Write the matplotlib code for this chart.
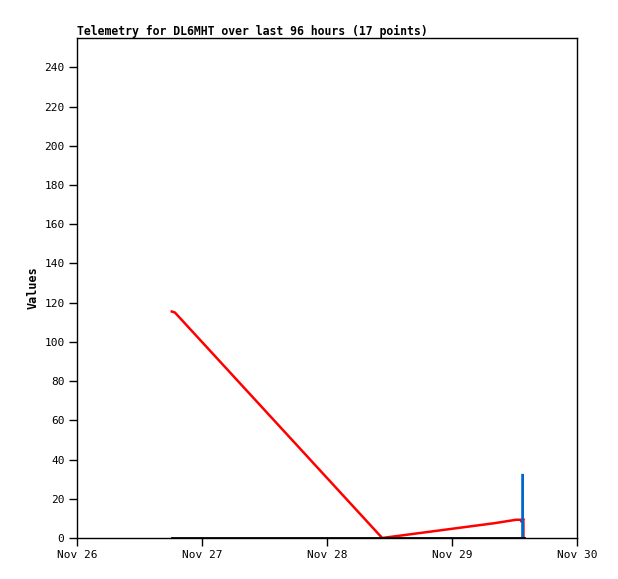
import matplotlib
matplotlib.use("Agg")
import matplotlib.pyplot as plt
import matplotlib.dates as mdates
from datetime import datetime, timedelta

base = datetime(2023, 11, 26)
# hours since Nov 26 00:00
red_hours = [18.2, 18.8, 58.6, 70.0, 80.0, 84.3, 85.25, 85.4, 85.7, 85.72]
red_vals = [115.5, 115.0, 0.0, 4.0, 7.5, 9.3, 9.3, 8.0, 10.0, 0.0]
black_hours = [18.2, 58.6, 85.75]
black_vals = [0.0, 0.0, 0.0]
blue_hours = [85.55, 85.56]
blue_vals = [0.0, 32.0]

xticks = [base + timedelta(days=d) for d in range(5)]

def to_dt(hs):
    return [base + timedelta(hours=h) for h in hs]

fig = plt.figure(figsize=(6.18, 5.79), dpi=100)
ax = fig.add_axes([77/618, 41/579, 500/618, 500/579])

ax.plot(to_dt(red_hours), red_vals, color="#ff0000", lw=1.8, solid_joinstyle="miter")
ax.plot(to_dt(blue_hours), blue_vals, color="#0066cc", lw=2.0)
ax.plot(to_dt(black_hours), black_vals, color="#000000", lw=2.0)

ax.set_xlim(xticks[0], xticks[-1])
ax.set_ylim(0, 255)
ax.set_yticks(range(0, 241, 20))
ax.set_xticks(xticks)
ax.xaxis.set_major_formatter(mdates.DateFormatter("%b %d"))

mono = "DejaVu Sans Mono"
for lab in ax.get_xticklabels() + ax.get_yticklabels():
    lab.set_fontfamily(mono)
    lab.set_fontsize(8)
ax.tick_params(direction="out", length=6, width=1, color="black", pad=3)
for s in ax.spines.values():
    s.set_linewidth(1)
    s.set_color("black")

ax.set_title("Telemetry for DL6MHT over last 96 hours (17 points)", loc="left",
             fontfamily=mono, fontweight="bold", fontsize=8.3, pad=2)
ax.set_ylabel("Values", fontfamily=mono, fontweight="bold", fontsize=8.5, labelpad=3)

fig.savefig("out.png", dpi=100)
